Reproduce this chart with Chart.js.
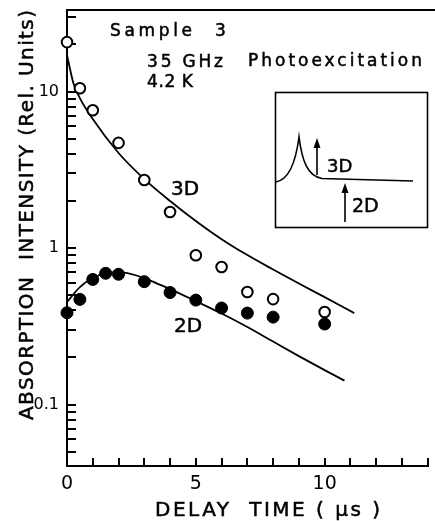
<!DOCTYPE html>
<html>
<head>
<meta charset="utf-8">
<script src="https://cdn.jsdelivr.net/npm/chart.js@4.4.1/dist/chart.umd.min.js"></script>
<style>
  html, body { margin: 0; padding: 0; background: #fff; }
  #wrap { width: 435px; height: 521px; }
</style>
</head>
<body>
<div id="wrap"><canvas id="decayChart" width="435" height="521"></canvas></div>
<script>
// measured points (open = 3D, filled = 2D)
const delay3D = [0, 0.5, 1, 2, 3, 4, 5, 6, 7, 8, 10];
const intensity3D = [20.7, 10.5, 7.6, 4.7, 2.72, 1.70, 0.90, 0.756, 0.524, 0.472, 0.39];
const delay2D = [0, 0.5, 1, 1.5, 2, 3, 4, 5, 6, 7, 8, 10];
const intensity2D = [0.386, 0.47, 0.63, 0.69, 0.68, 0.61, 0.52, 0.465, 0.414, 0.384, 0.362, 0.327];

// calculated curves
const fitDelay3D = [0, 0.25, 0.5, 1, 2, 3, 4, 5, 6, 7, 8, 9, 10, 11.15];
const fitValue3D = [17.1, 11.3, 9.09, 6.67, 4.05, 2.76, 2.0, 1.49, 1.14, 0.902, 0.729, 0.593, 0.486, 0.384];
const fitDelay2D = [0, 0.5, 1, 1.5, 2, 2.5, 3, 3.5, 4, 5, 6, 7, 8, 9, 10, 10.77];
const fitValue2D = [0.452, 0.563, 0.643, 0.692, 0.702, 0.682, 0.643, 0.593, 0.547, 0.458, 0.3815, 0.313, 0.2527, 0.204, 0.166, 0.1423];

// axis ticks
const xTickValues = [0, 1, 2, 3, 4, 5, 6, 7, 8, 9, 10, 11, 12, 13, 14];
const xTickLabels = [0, 5, 10];
const yTickValues = [0.05, 0.06, 0.07, 0.08, 0.09, 0.1, 0.2, 0.3, 0.4, 0.5, 0.6, 0.7, 0.8, 0.9,
                     1, 2, 3, 4, 5, 6, 7, 8, 9, 10, 20, 30];
const yTickLabels = [0.1, 1, 10];

const FONT = '"DejaVu Sans"';
Chart.defaults.font.family = FONT;
Chart.defaults.color = '#000';

function toPoints(xs, ys) {
    return xs.map((x, i) => ({ x: x, y: ys[i] }));
}

// text stretched to a width with letter spacing, a thin stroke makes it heavier
function spaced(ctx, text, x, y, size, width) {
    ctx.font = size + 'px ' + FONT;
    ctx.letterSpacing = '0px';
    let sp = 0;
    if (width) {
        const w0 = ctx.measureText(text).width;
        sp = (width - w0) / (text.length - 1);
    }
    ctx.letterSpacing = sp + 'px';
    ctx.fillText(text, x, y);
    ctx.lineWidth = 0.5;
    ctx.strokeText(text, x, y);
    ctx.letterSpacing = '0px';
}

function arrowUp(ctx, x, yFrom, yTo) {
    ctx.lineWidth = 1.6;
    ctx.beginPath();
    ctx.moveTo(x, yFrom);
    ctx.lineTo(x, yTo + 6);
    ctx.stroke();
    ctx.beginPath();
    ctx.moveTo(x, yTo);
    ctx.lineTo(x - 3.5, yTo + 10);
    ctx.lineTo(x + 3.5, yTo + 10);
    ctx.closePath();
    ctx.fill();
}

const annotate = {
    id: 'annotate',
    afterDraw(chart) {
        const { ctx, chartArea } = chart;
        ctx.save();
        ctx.fillStyle = '#000';
        ctx.strokeStyle = '#000';
        ctx.textAlign = 'left';
        ctx.textBaseline = 'alphabetic';

        // top frame
        ctx.lineWidth = 2;
        ctx.beginPath();
        ctx.moveTo(chartArea.left - 1, chartArea.top);
        ctx.lineTo(chart.width, chartArea.top);
        ctx.stroke();

        // header text
        spaced(ctx, 'Sample', 110, 36, 17, 82);
        spaced(ctx, '3', 215, 36, 17);
        spaced(ctx, '35 GHz', 147, 67, 17, 76);
        spaced(ctx, 'Photoexcitation', 248, 66, 17, 174);
        spaced(ctx, '4.2 K', 147, 87, 17, 46);

        // curve labels
        spaced(ctx, '3D', 171, 195, 20);
        spaced(ctx, '2D', 174, 332, 20);

        // axis titles
        spaced(ctx, 'DELAY  TIME ( \u03bcs )', 155, 516, 20, 225);
        ctx.save();
        ctx.translate(33, 420);
        ctx.rotate(-Math.PI / 2);
        spaced(ctx, 'ABSORPTION  INTENSITY (Rel. Units)', 0, 0, 20, 410);
        ctx.restore();

        // inset sketch
        ctx.lineWidth = 1.6;
        ctx.strokeRect(275.5, 92.5, 152, 135);
        ctx.beginPath();
        ctx.moveTo(276, 182);
        ctx.bezierCurveTo(287, 180, 295, 168, 299, 137);
        ctx.bezierCurveTo(302, 160, 307, 176, 322, 178.5);
        ctx.lineTo(413, 181);
        ctx.stroke();
        arrowUp(ctx, 317, 175, 138);
        arrowUp(ctx, 345, 222, 183);
        spaced(ctx, '3D', 327, 172, 18);
        spaced(ctx, '2D', 352, 212, 19);

        ctx.restore();
    }
};

const ctx = document.getElementById('decayChart').getContext('2d');

new Chart(ctx, {
    type: 'scatter',
    data: {
        datasets: [
            {
                label: '3D',
                data: toPoints(delay3D, intensity3D),
                pointStyle: 'circle',
                pointRadius: 5.3,
                pointBorderWidth: 2,
                backgroundColor: '#fff',
                borderColor: '#000',
                clip: false,
            },
            {
                label: '2D',
                data: toPoints(delay2D, intensity2D),
                pointStyle: 'circle',
                pointRadius: 6,
                pointBorderWidth: 1,
                backgroundColor: '#000',
                borderColor: '#000',
                clip: false,
            },
            {
                label: '3D calc',
                type: 'line',
                data: toPoints(fitDelay3D, fitValue3D),
                borderColor: '#000',
                borderWidth: 1.8,
                pointRadius: 0,
                fill: false,
                cubicInterpolationMode: 'monotone',
            },
            {
                label: '2D calc',
                type: 'line',
                data: toPoints(fitDelay2D, fitValue2D),
                borderColor: '#000',
                borderWidth: 1.8,
                pointRadius: 0,
                fill: false,
                cubicInterpolationMode: 'monotone',
            },
        ],
    },
    options: {
        responsive: false,
        animation: false,
        events: [],
        layout: { padding: { top: 10, right: 4, left: 0, bottom: 0 } },
        plugins: {
            legend: { display: false },
            tooltip: { enabled: false },
        },
        scales: {
            x: {
                type: 'linear',
                min: 0,
                max: 14,
                afterFit(scale) {
                    scale.height = 55;
                    scale.paddingLeft = 0;
                    scale.paddingRight = 0;
                },
                afterBuildTicks(scale) {
                    scale.ticks = xTickValues.map((v) => ({ value: v }));
                },
                ticks: {
                    autoSkip: false,
                    maxRotation: 0,
                    padding: 15,
                    font: { size: 19 },
                    color: '#000',
                    callback: (v) => (xTickLabels.includes(v) ? String(v) : ''),
                },
                grid: {
                    drawOnChartArea: false,
                    tickLength: -8,
                    lineWidth: 2,
                    color: '#000',
                },
                border: { display: true, color: '#000', width: 2 },
            },
            y: {
                type: 'logarithmic',
                min: 0.0405,
                max: 33.2,
                afterFit(scale) {
                    scale.width = 67;
                    scale.paddingTop = 0;
                    scale.paddingBottom = 0;
                },
                afterBuildTicks(scale) {
                    scale.ticks = yTickValues.map((v) => ({ value: v }));
                },
                ticks: {
                    autoSkip: false,
                    padding: 17,
                    font: { size: 16 },
                    color: '#000',
                    callback: (v) => (yTickLabels.includes(v) ? String(v) : ''),
                },
                grid: {
                    drawOnChartArea: false,
                    tickLength: -9,
                    lineWidth: 2,
                    color: '#000',
                },
                border: { display: true, color: '#000', width: 2 },
            },
        },
    },
    plugins: [annotate],
});
</script>
</body>
</html>
